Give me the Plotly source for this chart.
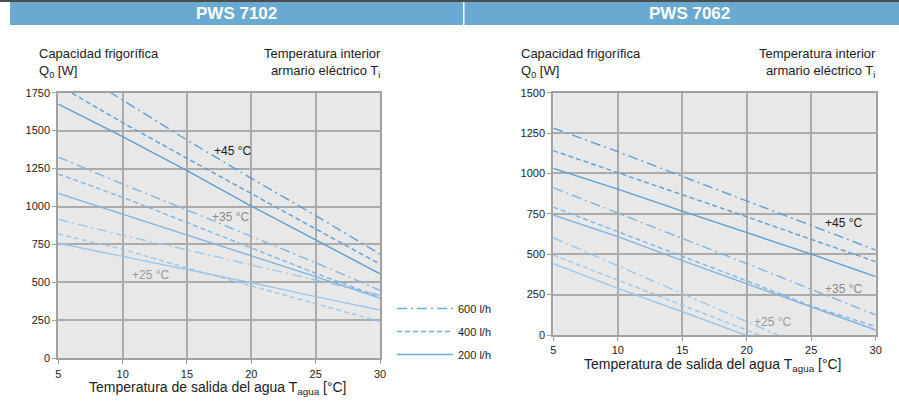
import plotly.graph_objects as go

W, H = 899, 402

# ---------------- data ----------------
water_temp = [5, 10, 15, 20, 25, 30]
x_ticks = [5, 10, 15, 20, 25, 30]
y_ticks_left = [0, 250, 500, 750, 1000, 1250, 1500, 1750]
y_ticks_right = [0, 250, 500, 750, 1000, 1250, 1500]

flow_labels = ["600 l/h", "400 l/h", "200 l/h"]
temp_labels = ["+45 °C", "+35 °C", "+25 °C"]

# PWS 7102 (left)
l45_600 = [1965, 1702, 1438, 1186, 940, 687]
l45_400 = [1800, 1552, 1318, 1087, 852, 620]
l45_200 = [1675, 1460, 1236, 1003, 780, 557]
l35_600 = [1326, 1148, 977, 801, 630, 448]
l35_400 = [1214, 1061, 894, 725, 560, 404]
l35_200 = [1087, 951, 812, 674, 538, 396]
l25_600 = [916, 810, 715, 615, 518, 416]
l25_400 = [819, 718, 595, 477, 358, 242]
l25_200 = [758, 672, 586, 498, 406, 318]

# PWS 7062 (right)
r45_600 = [1281, 1135, 982, 831, 677, 526]
r45_400 = [1141, 1005, 868, 732, 592, 454]
r45_200 = [1032, 903, 767, 633, 501, 361]
r35_600 = [912, 753, 598, 442, 283, 124]
r35_400 = [792, 640, 485, 335, 179, 52]
r35_200 = [743, 609, 460, 318, 175, 31]
r25_600 = [602, 428, 258, 83, -90, -260]
r25_400 = [495, 340, 188, 31, -125, -280]
r25_200 = [442, 289, 144, -5, -150, -300]

# label positions (data coords)
left_label_x = [18.5, 18.4, 12.2]
left_label_y = [1366, 933, 549]
right_label_x = [27.5, 27.5, 22.0]
right_label_y = [691, 283, 83]

# ---------------- style ----------------
FONT = "Liberation Sans, Arial, sans-serif"
c_temp = {"+45 °C": "#5b9fd6", "+35 °C": "#80b5e2", "+25 °C": "#9dc7ea"}
label_col = {"+45 °C": "#1a1a1a", "+35 °C": "#8a8a8a", "+25 °C": "#9a9a9a"}
dash_of = {"600 l/h": "10px,4px,2px,4px", "400 l/h": "5px,3px", "200 l/h": "solid"}
legend_col = "#6aaee0"

fig = go.Figure()

left_series = {
    "+45 °C": [l45_600, l45_400, l45_200],
    "+35 °C": [l35_600, l35_400, l35_200],
    "+25 °C": [l25_600, l25_400, l25_200],
}
right_series = {
    "+45 °C": [r45_600, r45_400, r45_200],
    "+35 °C": [r35_600, r35_400, r35_200],
    "+25 °C": [r25_600, r25_400, r25_200],
}

for axes, series in (("x", left_series), ("x2", right_series)):
    ya = "y" if axes == "x" else "y2"
    for t in ["+25 °C", "+35 °C", "+45 °C"]:
        for fl, vals in zip(flow_labels, series[t]):
            fig.add_trace(go.Scatter(
                x=water_temp, y=vals, mode="lines", xaxis=axes, yaxis=ya,
                line=dict(color=c_temp[t], width=1.4, dash=dash_of[fl]),
                showlegend=False, hoverinfo="skip"))

# legend entries
for i, fl in enumerate(flow_labels):
    fig.add_trace(go.Scatter(
        x=[None], y=[None], mode="lines", name=fl, legendgroup=fl,
        line=dict(color=legend_col, width=1.4, dash=dash_of[fl]),
        showlegend=True))

def px_x(p):
    return p / W

def px_y(p):
    return (H - p) / H

axis_common = dict(
    showgrid=True, gridcolor="#ababab", gridwidth=2,
    showline=True, linecolor="#a0a0a0", linewidth=2, mirror=True,
    ticks="outside", ticklen=4, tickcolor="#a0a0a0", tickwidth=1,
    zeroline=False, tickfont=dict(family=FONT, size=11, color="#222"),
    fixedrange=True, automargin=False,
)

fig.update_layout(
    template="none",
    width=W, height=H,
    margin=dict(l=0, r=0, t=0, b=0, pad=0, autoexpand=False),
    paper_bgcolor="white", plot_bgcolor="#e8e8e8",
    font=dict(family=FONT, color="#222"),
    xaxis=dict(domain=[px_x(58.3), px_x(380)], range=[5, 30], tickvals=x_ticks,
               anchor="y", **axis_common),
    yaxis=dict(domain=[px_y(358.3), px_y(92.7)], range=[0, 1750], tickvals=y_ticks_left,
               anchor="x", **axis_common),
    xaxis2=dict(domain=[px_x(553.3), px_x(875.7)], range=[5, 30], tickvals=x_ticks,
                anchor="y2", **axis_common),
    yaxis2=dict(domain=[px_y(335), px_y(92.7)], range=[0, 1500], tickvals=y_ticks_right,
                anchor="x2", **axis_common),
    legend=dict(x=px_x(392), y=px_y(294), xanchor="left", yanchor="top",
                font=dict(family=FONT, size=11, color="#222"),
                bgcolor="rgba(0,0,0,0)", borderwidth=0,
                traceorder="grouped", tracegroupgap=4, itemwidth=56),
    showlegend=True,
)

shapes = [
    dict(type="rect", xref="paper", yref="paper", x0=0, x1=1, y0=px_y(2), y1=1,
         fillcolor="#4d4d4d", line=dict(width=0), layer="above"),
    dict(type="rect", xref="paper", yref="paper", x0=px_x(10), x1=px_x(463), y0=px_y(25), y1=px_y(2),
         fillcolor="#6aaad2", line=dict(width=0), layer="above"),
    dict(type="rect", xref="paper", yref="paper", x0=px_x(464.5), x1=1, y0=px_y(25), y1=px_y(2),
         fillcolor="#6aaad2", line=dict(width=0), layer="above"),
]
fig.update_layout(shapes=shapes)

ann = []
for txt, cx in (("PWS 7102", 236), ("PWS 7062", 689)):
    ann.append(dict(text=f"<b>{txt}</b>", x=px_x(cx), y=px_y(14), xref="paper", yref="paper",
                    showarrow=False, xanchor="center", yanchor="middle",
                    font=dict(family=FONT, size=17, color="white")))

for lx, rx in ((37, 383), (519, 878)):
    ann.append(dict(text="Capacidad frigorífica<br>Q<sub>0</sub> [W]", x=px_x(lx), y=px_y(44),
                    xref="paper", yref="paper", showarrow=False, xanchor="left", yanchor="top",
                    align="left", font=dict(family=FONT, size=13, color="#222")))
    ann.append(dict(text="Temperatura interior<br>armario eléctrico T<sub>i</sub>", x=px_x(rx), y=px_y(44),
                    xref="paper", yref="paper", showarrow=False, xanchor="right", yanchor="top",
                    align="right", font=dict(family=FONT, size=13, color="#222")))

for cx, cy in ((218, 388), (713, 365)):
    ann.append(dict(text="Temperatura de salida del agua T<sub>agua</sub> [°C]", x=px_x(cx), y=px_y(cy),
                    xref="paper", yref="paper", showarrow=False, xanchor="center", yanchor="middle",
                    font=dict(family=FONT, size=14, color="#222")))

for t, lx, ly in zip(temp_labels, left_label_x, left_label_y):
    ann.append(dict(text=t, x=lx, y=ly, xref="x", yref="y", showarrow=False,
                    font=dict(family=FONT, size=12, color=label_col[t])))
for t, rx, ry in zip(temp_labels, right_label_x, right_label_y):
    ann.append(dict(text=t, x=rx, y=ry, xref="x2", yref="y2", showarrow=False,
                    font=dict(family=FONT, size=12, color=label_col[t])))

fig.update_layout(annotations=ann)

fig.write_html("out.html",
               config={"displayModeBar": False, "staticPlot": True},
               post_script="document.body.style.margin='0px';document.body.style.overflow='hidden';")
